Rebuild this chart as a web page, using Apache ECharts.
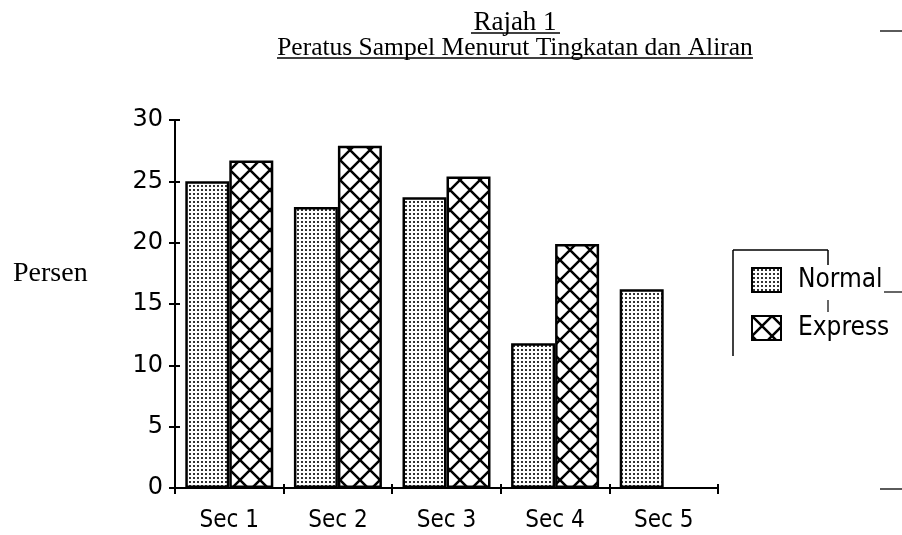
<!DOCTYPE html>
<html>
<head>
<meta charset="utf-8">
<script src="https://cdn.jsdelivr.net/npm/echarts@6/dist/echarts.min.js"></script>
<style>html,body{margin:0;padding:0;background:#fff;}#c{width:902px;height:535px;}</style>
</head>
<body>
<div id="c"></div>
<script>
const categories = ['Sec 1', 'Sec 2', 'Sec 3', 'Sec 4', 'Sec 5'];
const normalValues = [25.0, 22.9, 23.7, 11.8, 16.2];
const expressValues = [26.7, 27.9, 25.4, 19.9, null];
const seriesNames = ['Normal', 'Express'];
const titleLine1 = 'Rajah 1';
const titleLine2 = 'Peratus Sampel Menurut Tingkatan dan Aliran';
const yAxisTitle = 'Persen';

function dotPattern() {
  const c = document.createElement('canvas');
  c.width = 4; c.height = 4;
  const g = c.getContext('2d');
  g.fillStyle = '#fff'; g.fillRect(0, 0, 4, 4);
  g.fillStyle = '#333'; g.fillRect(1, 1, 2, 2);
  return c;
}
function hatchPattern() {
  const s = 20;
  const c = document.createElement('canvas');
  c.width = s; c.height = s;
  const g = c.getContext('2d');
  g.fillStyle = '#fff'; g.fillRect(0, 0, s, s);
  g.strokeStyle = '#000'; g.lineWidth = 2.5;
  g.beginPath();
  g.moveTo(-2, -2); g.lineTo(s + 2, s + 2);
  g.moveTo(s + 2, -2); g.lineTo(-2, s + 2);
  g.stroke();
  return c;
}

const chart = echarts.init(document.getElementById('c'));
const sans = 'DejaVu Sans';
const narrow = '"DejaVu Sans Condensed", "DejaVu Sans"';
const serif = 'Liberation Serif';
const black = '#000';

chart.setOption({
  animation: false,
  backgroundColor: '#fff',
  grid: { left: 175, right: 184, top: 120, bottom: 47 },
  legend: {
    orient: 'vertical',
    left: 733, top: 250,
    padding: [17, 0, 13, 18],
    itemWidth: 29, itemHeight: 24, itemGap: 22,
    borderWidth: 0,
    icon: 'rect',
    textStyle: { fontFamily: narrow, fontSize: 26, lineHeight: 24, color: black, padding: [0, 0, 0, 12] },
    data: seriesNames
  },
  xAxis: [
    {
      type: 'category',
      data: categories,
      axisLine: { lineStyle: { color: black, width: 2 } },
      axisTick: { show: true, alignWithLabel: false, length: 6, lineStyle: { color: black, width: 2 } },
      axisLabel: { color: black, fontFamily: narrow, fontSize: 24, margin: 21 }
    },
    {
      type: 'category',
      data: categories,
      position: 'bottom',
      axisLine: { show: false },
      axisTick: { show: true, inside: true, alignWithLabel: false, length: 4, lineStyle: { color: black, width: 2 } },
      axisLabel: { show: false }
    }
  ],
  yAxis: [
    {
      type: 'value',
      min: 0, max: 30, interval: 5,
      splitLine: { show: false },
      axisLine: { show: true, lineStyle: { color: black, width: 2 } },
      axisTick: { show: true, length: 6, lineStyle: { color: black, width: 2 } },
      axisLabel: { color: black, fontFamily: sans, fontSize: 24, margin: 12 }
    },
    {
      type: 'value',
      position: 'left',
      min: 0, max: 30, interval: 5,
      splitLine: { show: false },
      axisLine: { show: false },
      axisTick: { show: true, inside: true, length: 5, lineStyle: { color: black, width: 2 } },
      axisLabel: { show: false }
    }
  ],
  series: [
    {
      name: seriesNames[0], type: 'bar', data: normalValues,
      barWidth: 44, barGap: '0%',
      itemStyle: { color: { image: dotPattern(), repeat: 'repeat' }, borderColor: black, borderWidth: 2.5 }
    },
    {
      name: seriesNames[1], type: 'bar', data: expressValues,
      barWidth: 44, barGap: '0%',
      itemStyle: { color: { image: hatchPattern(), repeat: 'repeat' }, borderColor: black, borderWidth: 2.5 }
    }
  ],
  graphic: [
    { type: 'text', x: 515, y: 9, style: { text: titleLine1, fontFamily: serif, fontSize: 27, fill: black, align: 'center', verticalAlign: 'top' } },
    { type: 'line', shape: { x1: 471, y1: 33, x2: 560, y2: 33 }, style: { stroke: black, lineWidth: 1.3 } },
    { type: 'text', x: 515, y: 35, style: { text: titleLine2, fontFamily: serif, fontSize: 25.5, fill: black, align: 'center', verticalAlign: 'top' } },
    { type: 'line', shape: { x1: 277, y1: 58, x2: 753, y2: 58 }, style: { stroke: black, lineWidth: 1.3 } },
    { type: 'text', x: 13, y: 260, style: { text: yAxisTitle, fontFamily: serif, fontSize: 28, fill: black, verticalAlign: 'top' } },
    { type: 'line', shape: { x1: 880, y1: 31, x2: 902, y2: 31 }, style: { stroke: black, lineWidth: 1.3 } },
    { type: 'line', shape: { x1: 880, y1: 489, x2: 902, y2: 489 }, style: { stroke: black, lineWidth: 1.3 } },
    { type: 'line', shape: { x1: 733, y1: 250, x2: 828, y2: 250 }, style: { stroke: black, lineWidth: 1.5 } },
    { type: 'line', shape: { x1: 733, y1: 250, x2: 733, y2: 356 }, style: { stroke: black, lineWidth: 1.5 } },
    { type: 'line', shape: { x1: 828, y1: 250, x2: 828, y2: 265 }, style: { stroke: black, lineWidth: 1.5 } },
    { type: 'line', shape: { x1: 828, y1: 300, x2: 828, y2: 312 }, style: { stroke: black, lineWidth: 1.2 } },
    { type: 'line', shape: { x1: 884, y1: 292, x2: 902, y2: 292 }, style: { stroke: black, lineWidth: 1.2 } }
  ]
});
</script>
</body>
</html>
